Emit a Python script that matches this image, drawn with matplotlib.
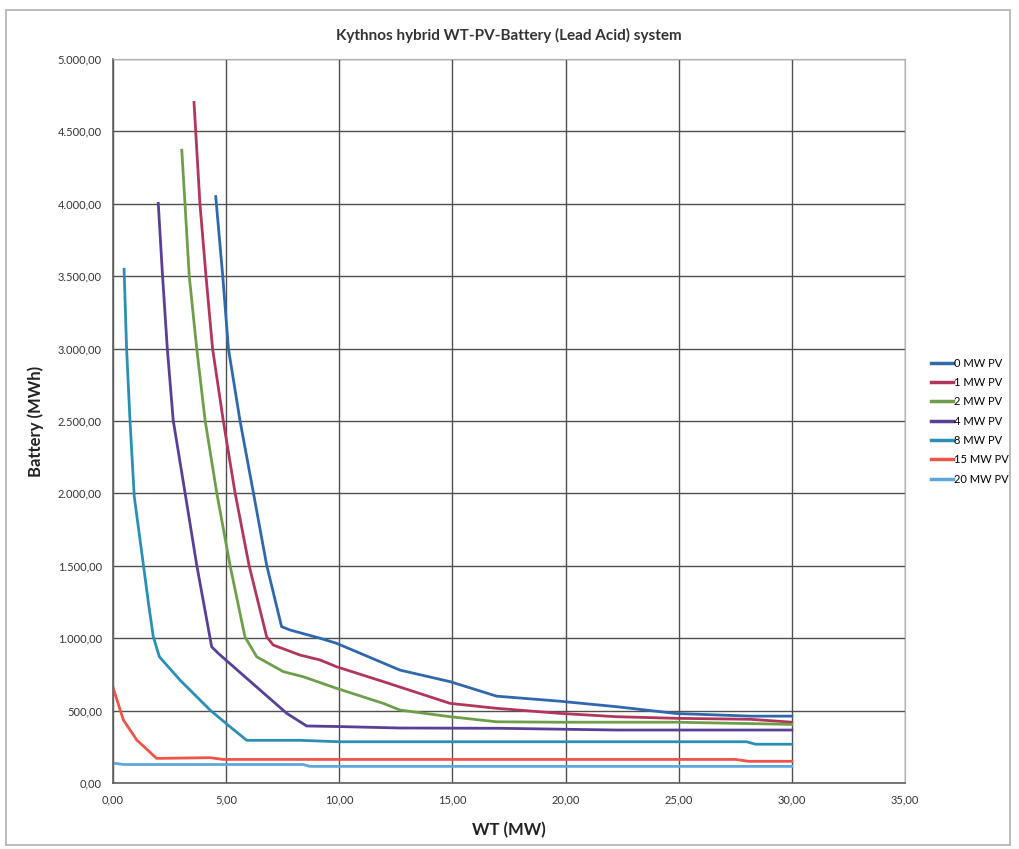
import matplotlib.pyplot as plt
from matplotlib.ticker import FuncFormatter, MultipleLocator
from matplotlib.patches import Rectangle

plt.rcParams['font.family'] = ['Lato', 'DejaVu Sans']

# Battery size (MWh) needed for each WT capacity (MW), one curve per PV size
wt_0 = [4.54, 4.85, 5.10, 5.61, 6.20, 6.79, 7.45, 7.82, 9.15, 9.88, 12.68, 14.9, 16.95, 19.75, 22.26, 24.9, 28.2, 30.0]
bat_0 = [4050, 3500, 3000, 2505, 2008, 1505, 1080, 1057, 1000, 965, 780, 700, 600, 565, 527, 480, 462, 462]

wt_1 = [3.58, 3.84, 4.11, 4.40, 4.87, 5.39, 6.01, 6.79, 7.08, 8.26, 9.15, 9.88, 11.95, 14.9, 16.95, 19.75, 22.26, 24.9, 28.2, 30.0]
bat_1 = [4700, 4005, 3500, 3000, 2505, 2008, 1505, 1010, 953, 884, 850, 803, 700, 550, 516, 481, 458, 447, 440, 420]

wt_2 = [3.04, 3.18, 3.37, 3.70, 4.07, 4.58, 5.17, 5.83, 6.35, 7.53, 8.41, 9.88, 11.95, 12.68, 14.9, 16.95, 19.75, 24.9, 30.0]
bat_2 = [4370, 4003, 3500, 3000, 2505, 2008, 1505, 1010, 872, 769, 734, 654, 550, 504, 458, 423, 420, 420, 405]

wt_4 = [2.00, 2.19, 2.40, 2.66, 3.18, 3.70, 4.36, 4.65, 5.91, 7.68, 8.56, 10.0, 12.68, 17.1, 22.26, 30.0]
bat_4 = [4003, 3500, 3000, 2505, 2008, 1505, 941, 896, 723, 481, 394, 390, 380, 378, 366, 366]

wt_8 = [0.49, 0.60, 0.75, 0.94, 1.34, 1.56, 1.78, 2.05, 2.96, 4.29, 5.17, 5.91, 8.26, 10.0, 28.0, 28.4, 30.0]
bat_8 = [3548, 3000, 2505, 1977, 1510, 1250, 1010, 872, 711, 504, 389, 295, 295, 285, 285, 268, 268]

wt_15 = [0.0, 0.46, 1.05, 1.93, 4.29, 4.87, 27.5, 28.1, 30.0]
bat_15 = [660, 435, 297, 170, 175, 163, 163, 150, 150]

wt_20 = [0.0, 0.46, 8.40, 8.70, 30.0]
bat_20 = [138, 128, 128, 115, 115]

series = [
    ('0 MW PV', wt_0, bat_0, '#2f68ad'),
    ('1 MW PV', wt_1, bat_1, '#b2365b'),
    ('2 MW PV', wt_2, bat_2, '#6e9e4a'),
    ('4 MW PV', wt_4, bat_4, '#5a3f96'),
    ('8 MW PV', wt_8, bat_8, '#2a8fb3'),
    ('15 MW PV', wt_15, bat_15, '#ee5449'),
    ('20 MW PV', wt_20, bat_20, '#5ea7dc'),
]


def fmt_num(v, pos=None):
    # European style: dot for thousands, comma for decimals
    s = f"{v:,.2f}"
    return s.replace(',', 'X').replace('.', ',').replace('X', '.')


fig = plt.figure(figsize=(10.19, 8.49), dpi=100)
fig.patches.append(Rectangle((0.006, 0.005), 0.985, 0.983, transform=fig.transFigure,
                             fill=False, edgecolor='#b0b0b0', linewidth=1.2))
ax = fig.add_axes([0.1109, 0.0777, 0.7772, 0.8528])

for nome, x, y, cor in series:
    ax.plot(x, y, color=cor, linewidth=2.0, label=nome)

ax.set_xlim(0, 35)
ax.set_ylim(0, 5000)
ax.xaxis.set_major_locator(MultipleLocator(5))
ax.yaxis.set_major_locator(MultipleLocator(500))
ax.xaxis.set_major_formatter(FuncFormatter(fmt_num))
ax.yaxis.set_major_formatter(FuncFormatter(fmt_num))
ax.tick_params(axis='both', labelsize=8, length=0, colors='#333333', pad=8)
ax.grid(True, color='#505050', linewidth=1.0)
ax.set_axisbelow(True)
for lado in ['top', 'right']:
    ax.spines[lado].set_color('#b0b0b0')
for lado in ['left', 'bottom']:
    ax.spines[lado].set_color('#606060')
    ax.spines[lado].set_linewidth(1.2)

ax.set_title('Kythnos hybrid WT-PV-Battery (Lead Acid) system', fontsize=11,
             fontweight='bold', color='#333333', pad=14)
ax.set_xlabel('WT (MW)', fontsize=12, fontweight='bold', color='#222222', labelpad=12)
ax.set_ylabel('Battery (MWh)', fontsize=12, fontweight='bold', color='#222222', labelpad=10)

leg = ax.legend(loc='center left', bbox_to_anchor=(1.02, 0.5), frameon=False, fontsize=8,
                handlelength=2.0, handletextpad=0.1, labelspacing=0.75)
for linha in leg.get_lines():
    linha.set_linewidth(2.5)

plt.savefig('out.png', dpi=100)
